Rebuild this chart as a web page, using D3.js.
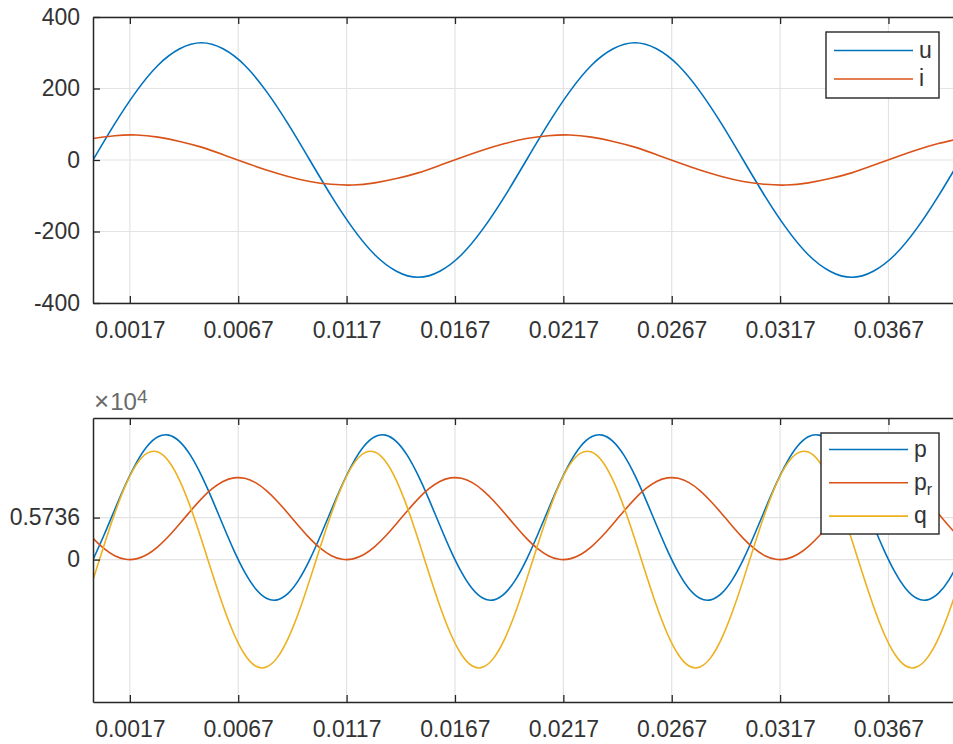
<!DOCTYPE html>
<html>
<head>
<meta charset="utf-8">
<script src="https://cdn.jsdelivr.net/npm/d3@7"></script>
<style>
  body { margin: 0; background: #fff; }
  svg { display: block; font-family: "Liberation Sans", Arial, Helvetica, sans-serif; }
</style>
</head>
<body>
<div id="chart"></div>
<script>
// time samples (s)
var tTop = [0, 0.001, 0.002, 0.003, 0.004, 0.005, 0.006, 0.007, 0.008, 0.009,
  0.010, 0.011, 0.012, 0.013, 0.014, 0.015, 0.016, 0.017, 0.018, 0.019,
  0.020, 0.021, 0.022, 0.023, 0.024, 0.025, 0.026, 0.027, 0.028, 0.029,
  0.030, 0.031, 0.032, 0.033, 0.034, 0.035, 0.036, 0.037, 0.038, 0.039, 0.040];

var uVals = [0, 101, 192, 265, 311, 328, 311, 265, 192, 101,
  0, -101, -192, -265, -311, -328, -311, -265, -192, -101,
  0, 101, 192, 265, 311, 328, 311, 265, 192, 101,
  0, -101, -192, -265, -311, -328, -311, -265, -192, -101, 0];

var iVals = [60, 68, 70, 64, 52, 36, 15, -7, -28, -46,
  -60, -68, -70, -64, -52, -36, -15, 7, 28, 46,
  60, 68, 70, 64, 52, 36, 15, -7, -28, -46,
  -60, -68, -70, -64, -52, -36, -15, 7, 28, 46, 60];

var tBot = [0, 0.0005, 0.001, 0.0015, 0.002, 0.0025, 0.003, 0.0035, 0.004, 0.0045,
  0.005, 0.0055, 0.006, 0.0065, 0.007, 0.0075, 0.008, 0.0085, 0.009, 0.0095,
  0.010, 0.0105, 0.011, 0.0115, 0.012, 0.0125, 0.013, 0.0135, 0.014, 0.0145,
  0.015, 0.0155, 0.016, 0.0165, 0.017, 0.0175, 0.018, 0.0185, 0.019, 0.0195,
  0.020, 0.0205, 0.021, 0.0215, 0.022, 0.0225, 0.023, 0.0235, 0.024, 0.0245,
  0.025, 0.0255, 0.026, 0.0265, 0.027, 0.0275, 0.028, 0.0285, 0.029, 0.0295,
  0.030, 0.0305, 0.031, 0.0315, 0.032, 0.0325, 0.033, 0.0335, 0.034, 0.0345,
  0.035, 0.0355, 0.036, 0.0365, 0.037, 0.0375, 0.038, 0.0385, 0.039, 0.0395, 0.040];

var pVals = [0, 3290, 6810, 10240, 13220, 15480, 16780, 17000, 16120, 14230,
  11500, 8220, 4690, 1260, -1720, -3980, -5280, -5500, -4620, -2730,
  0, 3290, 6810, 10240, 13220, 15480, 16780, 17000, 16120, 14230,
  11500, 8220, 4690, 1260, -1720, -3980, -5280, -5500, -4620, -2730,
  0, 3290, 6810, 10240, 13220, 15480, 16780, 17000, 16120, 14230,
  11500, 8220, 4690, 1260, -1720, -3980, -5280, -5500, -4620, -2730,
  0, 3290, 6810, 10240, 13220, 15480, 16780, 17000, 16120, 14230,
  11500, 8220, 4690, 1260, -1720, -3980, -5280, -5500, -4620, -2730, 0];

var prVals = [2900, 1520, 530, 40, 100, 690, 1770, 3220, 4900, 6650,
  8300, 9680, 10670, 11160, 11100, 10510, 9430, 7980, 6300, 4550,
  2900, 1520, 530, 40, 100, 690, 1770, 3220, 4900, 6650,
  8300, 9680, 10670, 11160, 11100, 10510, 9430, 7980, 6300, 4550,
  2900, 1520, 530, 40, 100, 690, 1770, 3220, 4900, 6650,
  8300, 9680, 10670, 11160, 11100, 10510, 9430, 7980, 6300, 4550,
  2900, 1520, 530, 40, 100, 690, 1770, 3220, 4900, 6650,
  8300, 9680, 10670, 11160, 11100, 10510, 9430, 7980, 6300, 4550, 2900];

var qVals = [-2770, 1860, 6300, 10130, 12970, 14540, 14680, 13390, 10790, 7130,
  2770, -1860, -6300, -10130, -12970, -14540, -14680, -13390, -10790, -7130,
  -2770, 1860, 6300, 10130, 12970, 14540, 14680, 13390, 10790, 7130,
  2770, -1860, -6300, -10130, -12970, -14540, -14680, -13390, -10790, -7130,
  -2770, 1860, 6300, 10130, 12970, 14540, 14680, 13390, 10790, 7130,
  2770, -1860, -6300, -10130, -12970, -14540, -14680, -13390, -10790, -7130,
  -2770, 1860, 6300, 10130, 12970, 14540, 14680, 13390, 10790, 7130,
  2770, -1860, -6300, -10130, -12970, -14540, -14680, -13390, -10790, -7130, -2770];

var xTicks = [0.0017, 0.0067, 0.0117, 0.0167, 0.0217, 0.0267, 0.0317, 0.0367];
var yTicksTop = [-400, -200, 0, 200, 400];
var yTicksBot = [0, 5736];
var yTickLabelsBot = ["0", "0.5736"];

var colors = ["#0072BD", "#D95319", "#EDB120"];
var axisColor = "#262626";
var textColor = "#333333";
var gridColor = "#e3e3e3";

var W = 953, H = 744;
var fontSize = 23;

var svg = d3.select("#chart").append("svg")
  .attr("width", W)
  .attr("height", H);

var x = d3.scaleLinear().domain([0, 0.04]).range([93, 960]);

function drawPanel(opt) {
  var g = svg.append("g");
  var y = opt.y;
  var top = y.range()[1], bottom = y.range()[0];
  var left = x.range()[0], right = x.range()[1];

  var clipId = "clip" + opt.id;
  svg.append("clipPath").attr("id", clipId)
    .append("rect")
    .attr("x", left).attr("y", top)
    .attr("width", right - left).attr("height", bottom - top);

  // grid
  g.append("g").selectAll("line")
    .data(xTicks).enter().append("line")
    .attr("x1", function(d) { return x(d); })
    .attr("x2", function(d) { return x(d); })
    .attr("y1", top).attr("y2", bottom)
    .attr("stroke", gridColor).attr("stroke-width", 1.2);
  g.append("g").selectAll("line")
    .data(opt.yTicks).enter().append("line")
    .attr("x1", left).attr("x2", right)
    .attr("y1", function(d) { return y(d); })
    .attr("y2", function(d) { return y(d); })
    .attr("stroke", gridColor).attr("stroke-width", 1.2);

  // lines
  var plot = g.append("g").attr("clip-path", "url(#" + clipId + ")");
  opt.series.forEach(function(s, k) {
    var line = d3.line()
      .x(function(d, i) { return x(opt.t[i]); })
      .y(function(d) { return y(d); })
      .curve(d3.curveNatural);
    plot.append("path")
      .datum(s.values)
      .attr("d", line)
      .attr("fill", "none")
      .attr("stroke", colors[k])
      .attr("stroke-width", 1.6);
  });

  // axes
  var xAxis = d3.axisBottom(x).tickValues(xTicks)
    .tickSize(-7).tickSizeOuter(0).tickPadding(19)
    .tickFormat(d3.format(".4f"));
  var xg = g.append("g").attr("transform", "translate(0," + bottom + ")").call(xAxis);

  var topAxis = d3.axisTop(x).tickValues(xTicks)
    .tickSize(-7).tickSizeOuter(0).tickFormat("");
  var tg = g.append("g").attr("transform", "translate(0," + top + ")").call(topAxis);

  var yAxis = d3.axisLeft(y).tickValues(opt.yTicks)
    .tickSize(-7).tickSizeOuter(0).tickPadding(13)
    .tickFormat(function(d, i) { return opt.yLabels ? opt.yLabels[i] : d; });
  var yg = g.append("g").attr("transform", "translate(" + left + ",0)").call(yAxis);

  [xg, tg, yg].forEach(function(a) {
    a.select(".domain").attr("stroke", axisColor).attr("stroke-width", 1.5);
    a.selectAll(".tick line").attr("stroke", axisColor).attr("stroke-width", 1.3);
    a.selectAll("text")
      .attr("fill", textColor)
      .style("font-size", fontSize + "px")
      .style("font-family", "'Liberation Sans', Arial, sans-serif");
  });

  // legend
  var lg = g.append("g");
  var L = opt.legend;
  lg.append("rect")
    .attr("x", L.x).attr("y", L.y)
    .attr("width", L.w).attr("height", L.h)
    .attr("fill", "#fff")
    .attr("stroke", axisColor).attr("stroke-width", 1.4);
  opt.series.forEach(function(s, k) {
    var ly = L.y + L.first + k * L.step;
    lg.append("line")
      .attr("x1", L.x + 8).attr("x2", L.x + 87)
      .attr("y1", ly).attr("y2", ly)
      .attr("stroke", colors[k]).attr("stroke-width", 1.6);
    var txt = lg.append("text")
      .attr("x", L.x + 93).attr("y", ly)
      .attr("dy", "0.32em")
      .attr("fill", textColor)
      .style("font-size", fontSize + "px");
    txt.append("tspan").text(s.name);
    if (s.sub) {
      txt.append("tspan").attr("dy", "0.3em")
        .style("font-size", "16px").text(s.sub);
    }
  });
  return g;
}

var yTop = d3.scaleLinear().domain([-400, 400]).range([303, 17]);
drawPanel({
  id: "top", y: yTop, t: tTop, yTicks: yTicksTop,
  series: [{ name: "u", values: uVals }, { name: "i", values: iVals }],
  legend: { x: 826, y: 32, w: 113, h: 66, first: 18.5, step: 28.5 }
});

var yBot = d3.scaleLinear().domain([-19450, 19340]).range([702, 418]);
drawPanel({
  id: "bot", y: yBot, t: tBot, yTicks: yTicksBot, yLabels: yTickLabelsBot,
  series: [{ name: "p", values: pVals }, { name: "p", sub: "r", values: prVals },
    { name: "q", values: qVals }],
  legend: { x: 821, y: 433, w: 118, h: 101, first: 16.5, step: 33.3 }
});

// exponent label for the lower axes
var ex = svg.append("text")
  .attr("x", 94).attr("y", 410)
  .attr("fill", "#6a6a6a")
  .style("font-size", "24px");
ex.append("tspan").style("font-size", "26px").text("\u00d7");
ex.append("tspan").attr("dx", "1").text("10");
ex.append("tspan").attr("dy", "-7").style("font-size", "19px").text("4");
</script>
</body>
</html>
